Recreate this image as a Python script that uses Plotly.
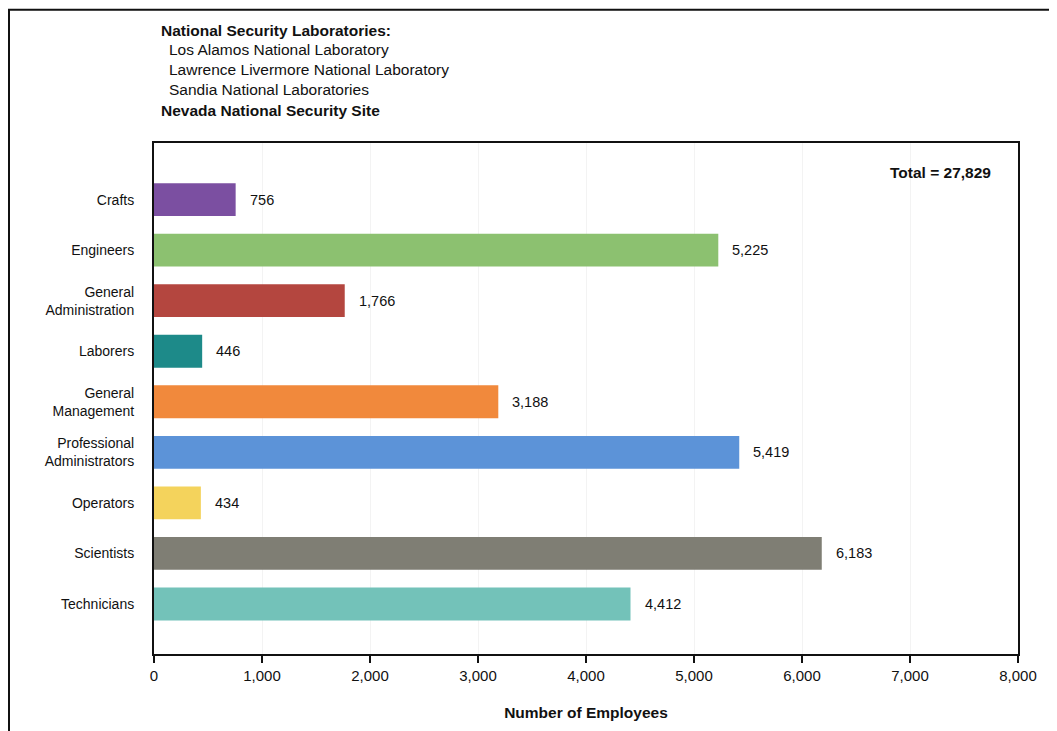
import plotly.graph_objects as go

categories = ["Crafts", "Engineers", "General<br>Administration", "Laborers",
              "General<br>Management", "Professional<br>Administrators",
              "Operators", "Scientists", "Technicians"]
employees = [756, 5225, 1766, 446, 3188, 5419, 434, 6183, 4412]
bar_colors = ["#7B4FA1", "#8CC170", "#B4463F", "#1D8A89", "#F1893C",
              "#5C93D8", "#F4D35C", "#7F7E74", "#73C2B9"]
x_ticks = [0, 1000, 2000, 3000, 4000, 5000, 6000, 7000, 8000]
x_tick_labels = ["0", "1,000", "2,000", "3,000", "4,000", "5,000", "6,000", "7,000", "8,000"]
header_lines = ["<b>National Security Laboratories:</b>",
                "Los Alamos National Laboratory",
                "Lawrence Livermore National Laboratory",
                "Sandia National Laboratories",
                "<b>Nevada National Security Site</b>"]
total_text = "Total = 27,829"

font_family = "Liberation Sans, Arial, sans-serif"

# page offset from browser default body margin
OFF = 8
L, T, W, H = 154 - OFF, 143 - OFF, 864, 514
FW, FH = 1057 - OFF, 731 - OFF

fig = go.Figure(go.Bar(
    x=employees, y=categories, orientation="h",
    marker=dict(color=bar_colors, line=dict(width=0)),
    width=0.65, hoverinfo="x+y",
))

annotations = []
for c, v in zip(categories, employees):
    annotations.append(dict(x=v, y=c, xref="x", yref="y", text=f"{v:,}",
                            showarrow=False, xanchor="left", xshift=12,
                            font=dict(size=14.5, color="#111", family=font_family)))

def px(xp):
    return (xp - OFF - L) / W
def py(yp):
    return 1 - (yp - OFF - T) / H

header_x = [159, 167, 167, 167, 159]
header_y = [30, 49, 69, 89, 110]
for t, hx, hy in zip(header_lines, header_x, header_y):
    annotations.append(dict(x=px(hx), y=py(hy), xref="paper", yref="paper",
                            text=t, showarrow=False,
                            xanchor="left", yanchor="middle",
                            font=dict(size=15.5, color="#111", family=font_family)))

annotations.append(dict(x=px(993), y=py(173), xref="paper", yref="paper",
                        text=f"<b>{total_text}</b>", showarrow=False,
                        xanchor="right", yanchor="middle",
                        font=dict(size=15.5, color="#111", family=font_family)))

fig.update_layout(
    width=FW, height=FH,
    margin=dict(l=L, r=FW - L - W, t=T, b=FH - T - H),
    paper_bgcolor="white", plot_bgcolor="white",
    showlegend=False,
    font=dict(family=font_family, color="#111"),
    xaxis=dict(range=[0, 8000], tickvals=x_ticks, ticktext=x_tick_labels,
               ticks="outside", ticklen=7, tickcolor="#111", tickwidth=1.5,
               showline=True, linecolor="#111", linewidth=2, mirror=True,
               showgrid=True, gridcolor="#f3f3f3", gridwidth=1,
               zeroline=False, tickfont=dict(size=15),
               title=dict(text="<b>Number of Employees</b>", font=dict(size=15.5),
                          standoff=24)),
    yaxis=dict(type="category", range=[8.99, -1.12],
               showline=True, linecolor="#111", linewidth=2, mirror=True,
               ticks="", showgrid=False, tickfont=dict(size=14),
               ticklabelstandoff=15),
    annotations=annotations,
    shapes=[dict(type="rect", xref="paper", yref="paper",
                 x0=px(OFF + 1), x1=px(1050), y0=py(745), y1=py(OFF + 1),
                 line=dict(color="#111", width=2), layer="below")],
)

fig.write_html("out.html")
